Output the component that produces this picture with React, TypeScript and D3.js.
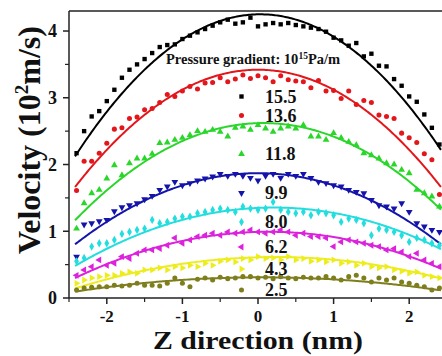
import React from "react";
import * as d3 from "d3";

// z positions of the MD sample points (nm)
const zGrid = [
  -2.4, -2.3, -2.2, -2.1, -2.0, -1.9, -1.8, -1.7, -1.6, -1.5, -1.4, -1.3, -1.2, -1.1, -1.0, -0.9, -0.8,
  -0.7, -0.6, -0.5, -0.4, -0.3, -0.2, -0.1, 0.0, 0.1, 0.2, 0.3, 0.4, 0.5, 0.6, 0.7, 0.8, 0.9, 1.0, 1.1,
  1.2, 1.3, 1.4, 1.5, 1.6, 1.7, 1.8, 1.9, 2.0, 2.1, 2.2, 2.3, 2.4,
];

// pressure gradient labels (10^15 Pa/m)
const gradients = ["15.5", "13.6", "11.8", "9.9", "8.0", "6.2", "4.3", "2.5"];

// velocity points (10^2 m/s), one array per pressure gradient
const vel155 = [
  2.17, 2.5, 2.72, 2.8, 2.95, 3.12, 3.3, 3.42, 3.5, 3.58, 3.67, 3.76, 3.79, 3.8, 3.88, 3.93, 3.98,
  4.03, 4.08, 4.13, 4.17, 4.11, 4.13, 4.2, 4.07, 4.1, 4.12, 4.1, 4.12, 4.09, 4.07, 4.05, 4.03, 3.99,
  3.9, 3.86, 3.78, 3.82, 3.62, 3.66, 3.48, 3.47, 3.28, 3.18, 3.02, 2.94, 2.75, 2.55, 2.3,
];
const vel136 = [
  1.61, 2.05, 2.05, 2.17, 2.32, 2.53, 2.55, 2.69, 2.71, 2.82, 2.84, 2.93, 3.05, 3.02, 3.1, 3.17, 3.13,
  3.22, 3.23, 3.3, 3.24, 3.28, 3.34, 3.29, 3.33, 3.3, 3.24, 3.33, 3.27, 3.25, 3.24, 3.15, 3.26, 3.1,
  3.11, 2.99, 3.1, 2.9, 2.96, 2.93, 2.74, 2.72, 2.69, 2.47, 2.4, 2.33, 2.16, 2.07, 1.55,
];
const vel118 = [
  1.04, 1.42, 1.57, 1.62, 1.79, 1.99, 1.84, 2.02, 2.09, 2.09, 2.16, 2.32, 2.33, 2.37, 2.4, 2.44, 2.5,
  2.49, 2.52, 2.49, 2.42, 2.55, 2.57, 2.52, 2.59, 2.54, 2.49, 2.54, 2.57, 2.54, 2.59, 2.42, 2.42, 2.37,
  2.47, 2.4, 2.34, 2.29, 2.17, 2.14, 2.09, 2.02, 2.0, 1.92, 1.87, 1.62, 1.57, 1.52, 1.37,
];
const vel99 = [
  0.62, 1.1, 1.12, 1.15, 1.17, 1.3, 1.36, 1.39, 1.42, 1.48, 1.53, 1.62, 1.67, 1.74, 1.69, 1.72, 1.76,
  1.79, 1.82, 1.86, 1.83, 1.86, 1.83, 1.8, 1.76, 1.83, 1.86, 1.8, 1.86, 1.83, 1.86, 1.8, 1.74, 1.72,
  1.69, 1.67, 1.62, 1.59, 1.57, 1.47, 1.39, 1.37, 1.34, 1.42, 1.29, 1.12, 1.07, 1.02, 0.99,
];
const vel80 = [
  0.55, 0.6, 0.77, 0.82, 0.82, 0.87, 0.96, 0.99, 1.02, 1.04, 1.17, 1.12, 1.14, 1.19, 1.22, 1.22, 1.27,
  1.29, 1.32, 1.34, 1.32, 1.29, 1.37, 1.34, 1.32, 1.34, 1.44, 1.32, 1.29, 1.27, 1.29, 1.24, 1.29, 1.27,
  1.24, 1.14, 1.19, 1.17, 1.12, 0.94, 1.04, 1.02, 0.99, 0.94, 0.84, 0.9, 0.87, 0.82, 0.79,
];
const vel62 = [
  0.34, 0.42, 0.47, 0.57, 0.49, 0.52, 0.62, 0.59, 0.67, 0.72, 0.72, 0.74, 0.79, 0.9, 0.82, 0.87, 0.92,
  0.94, 0.97, 0.94, 0.99, 0.97, 0.99, 1.02, 0.99, 0.97, 0.99, 1.02, 0.99, 0.94, 0.97, 0.92, 0.92, 0.9,
  0.77, 0.84, 0.87, 0.84, 0.82, 0.79, 0.77, 0.72, 0.74, 0.69, 0.62, 0.67, 0.57, 0.52, 0.47,
];
const vel43 = [
  0.22, 0.27, 0.3, 0.32, 0.34, 0.34, 0.37, 0.39, 0.37, 0.42, 0.42, 0.45, 0.42, 0.47, 0.45, 0.49, 0.47,
  0.52, 0.49, 0.55, 0.57, 0.54, 0.59, 0.57, 0.62, 0.59, 0.6, 0.57, 0.62, 0.57, 0.59, 0.55, 0.57, 0.54,
  0.57, 0.52, 0.54, 0.49, 0.52, 0.47, 0.45, 0.47, 0.42, 0.4, 0.37, 0.39, 0.34, 0.32, 0.3,
];
const vel25 = [
  0.12, 0.15, 0.16, 0.17, 0.17, 0.19, 0.18, 0.19, 0.22, 0.19, 0.19, 0.18, 0.22, 0.3, 0.22, 0.17, 0.28,
  0.3, 0.27, 0.31, 0.29, 0.3, 0.32, 0.32, 0.3, 0.31, 0.29, 0.32, 0.3, 0.29, 0.31, 0.3, 0.3, 0.32,
  0.3, 0.27, 0.32, 0.34, 0.3, 0.24, 0.3, 0.27, 0.3, 0.24, 0.22, 0.19, 0.17, 0.12, 0.15,
];

// parabolic fit v = c0 + c1*z + c2*z^2
const fitC0 = [4.25, 3.42, 2.62, 1.87, 1.35, 0.99, 0.61, 0.31];
const fitC1 = [0.02, 0.0, 0.033, 0.0, 0.052, 0.029, 0.031, 0.004];
const fitC2 = [-0.355, -0.3, -0.235, -0.182, -0.127, -0.106, -0.067, -0.035];

const xTicks = [-2, -1, 0, 1, 2];
const yTicks = [0, 1, 2, 3, 4];

const seriesValues = [vel155, vel136, vel118, vel99, vel80, vel62, vel43, vel25];
const colors = ["#000000", "#e3161b", "#2ad62a", "#1414aa", "#22dede", "#dc22dc", "#eded1e", "#7e7e1c"];
const shapes = ["square", "circle", "up", "down", "diamond", "left", "right", "circle"];
const legendRowY = [96.5, 115.5, 154, 193, 222, 247, 269, 290];

const W = 442;
const H = 356;
const left = 69;
const right = 447;
const top = 11;
const bottom = 298;
const font = "'Liberation Serif', 'Times New Roman', serif";

function Marker({ shape, x, y, color }: { shape: string; x: number; y: number; color: string }) {
  let type: d3.SymbolType = d3.symbolCircle;
  let size = 20;
  let rot = 0;
  if (shape === "square") { type = d3.symbolSquare; size = 19; }
  if (shape === "diamond") { type = d3.symbolDiamond; size = 20; }
  if (shape === "up" || shape === "down" || shape === "left" || shape === "right") {
    type = d3.symbolTriangle;
    size = 20;
    rot = shape === "down" ? 180 : shape === "left" ? -90 : shape === "right" ? 90 : 0;
  }
  const d = d3.symbol().type(type).size(size)() as string;
  return <path d={d} fill={color} transform={`translate(${x},${y}) rotate(${rot})`} />;
}

export default function App() {
  const x = d3.scaleLinear().domain([-2.5, 2.5]).range([left, right]);
  const y = d3.scaleLinear().domain([0, 4.3]).range([bottom, top]);

  const fitZ = d3.range(-2.42, 2.4201, 0.02);
  const line = d3.line<number>().x((z) => x(z));

  const xMinor = d3.range(-2.5, 2.51, 0.5).filter((v) => Math.abs(v - Math.round(v)) > 0.1);
  const yMinor = d3.range(0.5, 4.3, 1);

  return (
    <svg width={W} height={H} style={{ position: "fixed", left: 0, top: 0, background: "#fff" }} fontFamily={font}>
      {/* frame */}
      <line x1={left} x2={W} y1={top} y2={top} stroke="#222" strokeWidth={1.5} />
      <line x1={left} x2={W} y1={bottom} y2={bottom} stroke="#222" strokeWidth={1.5} />
      <line x1={left} x2={left} y1={top} y2={bottom} stroke="#222" strokeWidth={1.5} />

      {/* x ticks */}
      {xTicks.map((t) => (
        <g key={"xt" + t}>
          <line x1={x(t)} x2={x(t)} y1={bottom} y2={bottom + 6} stroke="#222" strokeWidth={1.5} />
          <text x={x(t)} y={322} textAnchor="middle" fontSize={17} fontWeight="bold" fill="#111">
            {t < 0 ? "-" + Math.abs(t) : String(t)}
          </text>
        </g>
      ))}
      {xMinor.map((t) => (
        <line key={"xm" + t} x1={x(t)} x2={x(t)} y1={bottom} y2={bottom + 4} stroke="#222" strokeWidth={1.2} />
      ))}

      {/* y ticks */}
      {yTicks.map((t) => (
        <g key={"yt" + t}>
          <line x1={left - 6} x2={left} y1={y(t)} y2={y(t)} stroke="#222" strokeWidth={1.5} />
          <text x={57} y={y(t)} dy="0.35em" textAnchor="end" fontSize={18} fontWeight="bold" fill="#111">
            {t}
          </text>
        </g>
      ))}
      {yMinor.map((t) => (
        <line key={"ym" + t} x1={left - 4} x2={left} y1={y(t)} y2={y(t)} stroke="#222" strokeWidth={1.2} />
      ))}

      {/* axis titles */}
      <text
        x={258}
        y={349}
        textAnchor="middle"
        fontSize={26}
        fontWeight="bold"
        fill="#111"
        textLength={210}
        lengthAdjust="spacingAndGlyphs"
      >
        Z direction (nm)
      </text>
      <text transform="translate(40,140) rotate(-90)" textAnchor="middle" fontSize={32} fontWeight="bold" fill="#111">
        Velocity (10<tspan dy={-12} fontSize={19}>2</tspan>
        <tspan dy={12}>m/s)</tspan>
      </text>

      {/* fitted curves */}
      {seriesValues.map((_, i) => (
        <path
          key={"fit" + i}
          d={line.y((z) => y(fitC0[i] + fitC1[i] * z + fitC2[i] * z * z))(fitZ) as string}
          fill="none"
          stroke={colors[i]}
          strokeWidth={2}
        />
      ))}

      {/* points */}
      {seriesValues.map((vals, i) => (
        <g key={"pts" + i}>
          {vals.map((v, j) => (
            <Marker key={j} shape={shapes[i]} x={x(zGrid[j])} y={y(v)} color={colors[i]} />
          ))}
        </g>
      ))}

      {/* legend */}
      <text x={166} y={64} fontSize={14.5} fontWeight="bold" fill="#111">
        Pressure gradient: 10<tspan dy={-5} fontSize={9.5}>15</tspan>
        <tspan dy={5}>Pa/m</tspan>
      </text>
      {gradients.map((g, i) => (
        <g key={"lg" + i}>
          <Marker shape={shapes[i]} x={241.5} y={legendRowY[i]} color={colors[i]} />
          <text x={265} y={legendRowY[i]} dy="0.35em" fontSize={18} fontWeight="bold" fill="#111">
            {g}
          </text>
        </g>
      ))}
    </svg>
  );
}
